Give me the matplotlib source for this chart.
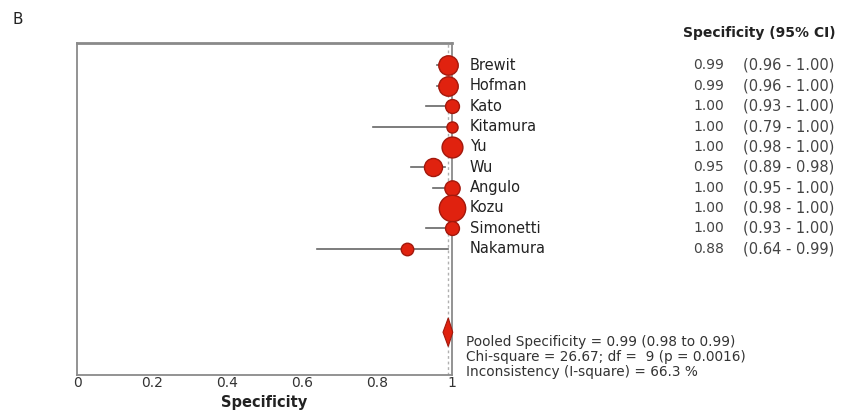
import matplotlib.pyplot as plt
from matplotlib.transforms import blended_transform_factory

plt.rcParams['font.family'] = ['DejaVu Sans']

studies = ['Brewit', 'Hofman', 'Kato', 'Kitamura', 'Yu', 'Wu', 'Angulo', 'Kozu', 'Simonetti', 'Nakamura']
spec = [0.99, 0.99, 1.00, 1.00, 1.00, 0.95, 1.00, 1.00, 1.00, 0.88]
ci_lo = [0.96, 0.96, 0.93, 0.79, 0.98, 0.89, 0.95, 0.98, 0.93, 0.64]
ci_hi = [1.00, 1.00, 1.00, 1.00, 1.00, 0.98, 1.00, 1.00, 1.00, 0.99]
weights = [14, 14, 10, 8, 15, 13, 11, 19, 10, 9]
pooled = 0.99
pooled_lo = 0.98
pooled_hi = 0.99
pooled_txt = ['Pooled Specificity = 0.99 (0.98 to 0.99)',
              'Chi-square = 26.67; df =  9 (p = 0.0016)',
              'Inconsistency (I-square) = 66.3 %']

fig = plt.figure(figsize=(8.59, 4.17), dpi=100)
ax = fig.add_axes([77/859, 1-375/417, 375/859, 332/417])

red = '#e0220f'
edge = '#a3180c'
for i in range(len(studies)):
    ax.plot([ci_lo[i], ci_hi[i]], [i, i], c='#666666', lw=1.2, zorder=2, clip_on=False)
    ax.plot(spec[i], i, 'o', ms=weights[i], mfc=red, mec=edge, mew=1.0, zorder=3, clip_on=False)

# pooled diamond
py = 13.1
ax.fill([pooled_lo - 0.004, pooled, pooled_hi + 0.012, pooled],
        [py, py - 0.7, py, py + 0.7], color=red, ec=edge, lw=0.8, zorder=3, clip_on=False)
ax.axvline(pooled, c='#b0b0b0', ls=(0, (2, 2)), lw=1.0, zorder=1)

ax.set_xlim(0, 1)
ax.set_ylim(15.2, -1.1)
ax.set_yticks([])
ax.set_xticks([0, 0.2, 0.4, 0.6, 0.8, 1])
ax.set_xticklabels(['0', '0.2', '0.4', '0.6', '0.8', '1'], fontsize=10, color='#333333')
ax.tick_params(axis='x', length=0, pad=1)
ax.set_xlabel('Specificity', fontsize=10.5, fontweight='bold', labelpad=3, color='#222222')
for s in ax.spines.values():
    s.set_color('#8a8a8a')
    s.set_linewidth(1.3)
ax.spines['top'].set_linewidth(2.0)

tr = blended_transform_factory(fig.transFigure, ax.transData)
for i in range(len(studies)):
    fig.text(470/859, i, studies[i], transform=tr, fontsize=10.5, va='center', color='#222222')
    fig.text(724/859, i, '%.2f' % spec[i], transform=tr, fontsize=10,
             va='center', ha='right', color='#444444')
    fig.text(743/859, i, '(%.2f - %.2f)' % (ci_lo[i], ci_hi[i]), transform=tr, fontsize=10.5,
             va='center', color='#444444')

fig.text(683/859, 1-33/417, 'Specificity (95% CI)', fontsize=10, fontweight='bold', va='center', color='#222222')
for k, t in enumerate(pooled_txt):
    fig.text(466/859, 1-(342 + 15*k)/417, t, fontsize=9.8, va='center', color='#333333')

fig.text(12/859, 1-20/417, 'B', fontsize=11, va='center', color='#222222')

fig.savefig('out.png', dpi=100)
